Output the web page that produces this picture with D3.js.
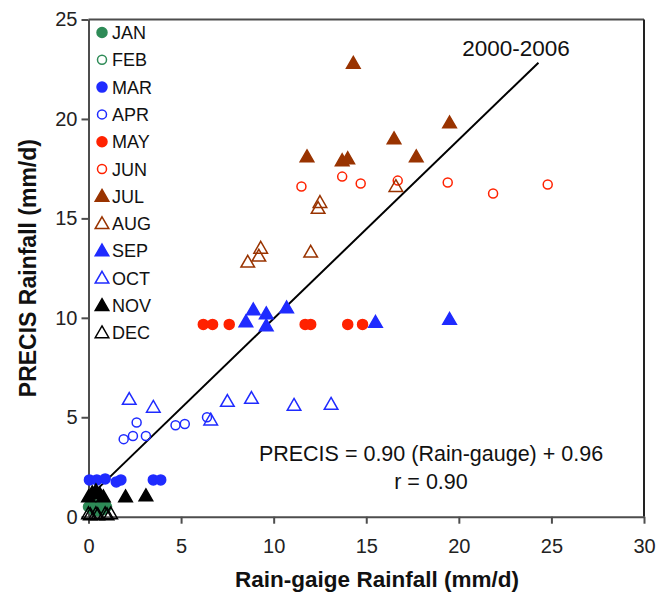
<!DOCTYPE html>
<html>
<head>
<meta charset="utf-8">
<script src="https://cdn.jsdelivr.net/npm/d3@7"></script>
<style>
  html, body { margin: 0; padding: 0; background: #fff; }
  svg { display: block; font-family: "Liberation Sans", Arial, sans-serif; }
</style>
</head>
<body>
<svg id="chart" width="669" height="592"></svg>
<script>
// Monthly mean rainfall, rain-gauge (x) vs PRECIS (y), 2000-2006
const months = ["JAN","FEB","MAR","APR","MAY","JUN","JUL","AUG","SEP","OCT","NOV","DEC"];
const colors = ["#2e8b57","#2e8b57","#1f2bff","#1f2bff","#ff2200","#ff2200","#993300","#993300","#1f2bff","#1f2bff","#000000","#000000"];
const shapes = ["circle","circle","circle","circle","circle","circle","triangle","triangle","triangle","triangle","triangle","triangle"];
const filled = [true,false,true,false,true,false,true,false,true,false,true,false];

const gaugeJAN = [0.0, 0.2, 0.3, 0.5, 0.6, 0.8, 0.9];
const precisJAN = [0.5, 0.4, 0.6, 0.3, 0.5, 0.35, 0.6];
const gaugeFEB = [0.1, 0.3, 0.4, 0.5, 0.7, 0.9, 1.0];
const precisFEB = [0.6, 0.3, 0.5, 0.7, 0.4, 0.7, 0.5];
const gaugeMAR = [0.05, 0.45, 0.9, 1.5, 1.75, 3.5, 3.9];
const precisMAR = [1.85, 1.85, 1.9, 1.75, 1.85, 1.85, 1.85];
const gaugeAPR = [1.9, 2.4, 2.6, 3.1, 4.7, 5.2, 6.4];
const precisAPR = [3.9, 4.06, 4.74, 4.06, 4.6, 4.66, 5.0];
const gaugeMAY = [6.2, 6.7, 7.6, 11.7, 12.0, 14.0, 14.8];
const precisMAY = [9.67, 9.67, 9.67, 9.67, 9.67, 9.67, 9.67];
const gaugeJUN = [11.5, 13.7, 14.7, 16.7, 19.4, 21.85, 24.8];
const precisJUN = [16.6, 17.1, 16.75, 16.9, 16.8, 16.25, 16.7];
const gaugeJUL = [11.8, 13.7, 14.0, 14.3, 16.5, 17.7, 19.5];
const precisJUL = [18.1, 17.9, 18.0, 22.8, 19.0, 18.1, 19.8];
const gaugeAUG = [8.6, 9.2, 9.3, 12.0, 12.4, 12.5, 16.6];
const precisAUG = [12.8, 13.1, 13.5, 13.3, 15.5, 15.8, 16.6];
const gaugeSEP = [8.5, 8.9, 9.6, 9.6, 10.7, 15.5, 19.5];
const precisSEP = [9.8, 10.4, 10.2, 9.6, 10.5, 9.77, 9.92];
const gaugeOCT = [2.2, 3.5, 6.6, 7.5, 8.8, 11.1, 13.1];
const precisOCT = [5.9, 5.5, 4.86, 5.8, 5.95, 5.6, 5.65];
const gaugeNOV = [0.0, 0.2, 0.4, 0.6, 0.8, 2.0, 3.1];
const precisNOV = [1.0, 1.2, 1.3, 1.15, 1.0, 1.0, 1.05];
const gaugeDEC = [0.0, 0.1, 0.4, 0.5, 0.9, 1.0, 1.2];
const precisDEC = [0.15, 0.1, 0.15, 0.1, 0.15, 0.1, 0.15];

const gaugeByMonth = [gaugeJAN,gaugeFEB,gaugeMAR,gaugeAPR,gaugeMAY,gaugeJUN,gaugeJUL,gaugeAUG,gaugeSEP,gaugeOCT,gaugeNOV,gaugeDEC];
const precisByMonth = [precisJAN,precisFEB,precisMAR,precisAPR,precisMAY,precisJUN,precisJUL,precisAUG,precisSEP,precisOCT,precisNOV,precisDEC];

const xTicks = [0, 5, 10, 15, 20, 25, 30];
const yTicks = [0, 5, 10, 15, 20, 25];
const slope = 0.90, intercept = 0.96, lineXMax = 24.3;

const svg = d3.select("#chart");
const L = 88.5, R = 644, T = 19.5, B = 516.7;
const x = d3.scaleLinear().domain([0, 30]).range([L, R]);
const y = d3.scaleLinear().domain([0, 25]).range([B, T]);
const axisColor = "#4d4d4d";

// frame (top & right)
svg.append("line").attr("x1", L).attr("x2", R).attr("y1", T).attr("y2", T)
  .attr("stroke", axisColor).attr("stroke-width", 2);
svg.append("line").attr("x1", R).attr("x2", R).attr("y1", T).attr("y2", B)
  .attr("stroke", "#222").attr("stroke-width", 2);

// axes
const xAxis = svg.append("g").attr("transform", `translate(0,${B})`)
  .call(d3.axisBottom(x).tickValues(xTicks).tickSize(7).tickPadding(15).tickSizeOuter(0));
const yAxis = svg.append("g").attr("transform", `translate(${L},0)`)
  .call(d3.axisLeft(y).tickValues(yTicks).tickSize(7).tickPadding(4).tickSizeOuter(0));
[xAxis, yAxis].forEach(g => {
  g.select(".domain").attr("stroke", axisColor).attr("stroke-width", 2);
  g.selectAll(".tick line").attr("stroke", axisColor).attr("stroke-width", 2);
  g.selectAll(".tick text").attr("fill", "#222").attr("font-size", 20)
    .attr("font-family", "Liberation Sans, Arial, sans-serif");
});

// regression line
svg.append("line")
  .attr("x1", x(0)).attr("y1", y(intercept))
  .attr("x2", x(lineXMax)).attr("y2", y(slope * lineXMax + intercept))
  .attr("stroke", "#000").attr("stroke-width", 2);

const tri = d3.symbol().type(d3.symbolTriangle).size(80);
function drawMarker(g, shape, color, isFilled, px, py) {
  if (shape === "circle") {
    g.append("circle").attr("cx", px).attr("cy", py).attr("r", isFilled ? 5 : 4.5)
      .attr("fill", isFilled ? color : "none").attr("stroke", color).attr("stroke-width", 1.5);
  } else {
    g.append("path").attr("d", tri()).attr("transform", `translate(${px},${py + 1})`)
      .attr("fill", isFilled ? color : "none").attr("stroke", color).attr("stroke-width", 1.5)
      .attr("stroke-linejoin", "miter");
  }
}

// data points
months.forEach((m, i) => {
  const g = svg.append("g").attr("class", "series-" + m);
  gaugeByMonth[i].forEach((gv, j) => {
    drawMarker(g, shapes[i], colors[i], filled[i], x(gv), y(precisByMonth[i][j]));
  });
});

// legend
const legend = svg.append("g");
months.forEach((m, i) => {
  const ly = 32.5 + i * 27.3;
  drawMarker(legend, shapes[i], colors[i], filled[i], 102, ly);
  legend.append("text").attr("x", 112).attr("y", ly + 6.5).attr("font-size", 18)
    .attr("fill", "#111").text(m);
});

// labels
svg.append("text").attr("x", 516).attr("y", 56).attr("text-anchor", "middle")
  .attr("font-size", 22.5).attr("fill", "#111").text("2000-2006");
svg.append("text").attr("x", 431).attr("y", 461).attr("text-anchor", "middle")
  .attr("font-size", 21.5).attr("fill", "#111").text("PRECIS = 0.90 (Rain-gauge) + 0.96");
svg.append("text").attr("x", 431).attr("y", 489).attr("text-anchor", "middle")
  .attr("font-size", 21.5).attr("fill", "#111").text("r = 0.90");

// axis titles
svg.append("text").attr("x", 377).attr("y", 587).attr("text-anchor", "middle")
  .attr("font-size", 22.5).attr("font-weight", "bold").attr("fill", "#111")
  .text("Rain-gaige Rainfall (mm/d)");
svg.append("text").attr("transform", `translate(36,${(T + B) / 2}) rotate(-90)`)
  .attr("text-anchor", "middle").attr("font-size", 23).attr("font-weight", "bold")
  .attr("fill", "#111").text("PRECIS Rainfall (mm/d)");
</script>
</body>
</html>
